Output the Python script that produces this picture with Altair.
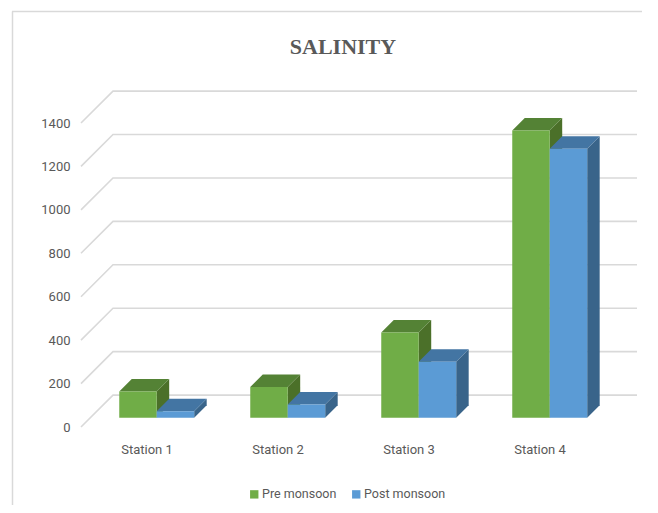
import altair as alt
import pandas as pd

stations = ["Station 1", "Station 2", "Station 3", "Station 4"]
pre_monsoon = [120, 141, 392, 1322]
post_monsoon = [29, 61, 258, 1238]
y_ticks = [0, 200, 400, 600, 800, 1000, 1200, 1400]
series_names = ["Pre monsoon", "Post monsoon"]

FONT = "Roboto"
TEXT = "#595959"
GRID = "#d9d9d9"

# layout of the pseudo-3D box, in scale units
BAR_LEFT = 0.292
BAR_W = 0.286
D_X = 0.0954
D_V = 57.6
BASE = 43
WALL_X = 32 / 131
WALL_V = 147

rows_front, rows_side, rows_top = [], [], []
for s_i, (name, vals) in enumerate(zip(series_names, [pre_monsoon, post_monsoon])):
    for i, v in enumerate(vals):
        x0 = i + BAR_LEFT + s_i * BAR_W
        x1 = x0 + BAR_W
        top = v + BASE
        rows_front.append(dict(series=name, st=i, x0=x0, x1=x1, y0=BASE, y1=top))
        rows_side += [
            dict(series=name, st=i, x=x1, y0=BASE, y1=top),
            dict(series=name, st=i, x=x1 + D_X, y0=BASE + D_V, y1=top + D_V),
        ]
        rows_top += [
            dict(series=name, st=i, y=top, x0=x0, x1=x1),
            dict(series=name, st=i, y=top + D_V, x0=x0 + D_X, x1=x1 + D_X),
        ]
front = pd.DataFrame(rows_front)
side = pd.DataFrame(rows_side)
topf = pd.DataFrame(rows_top)

grid_rows = []
for v in y_ticks:
    grid_rows += [
        dict(v=v, o=0, x=0, y=v),
        dict(v=v, o=1, x=WALL_X, y=v + WALL_V),
        dict(v=v, o=2, x=4 + WALL_X, y=v + WALL_V),
    ]
grid = pd.DataFrame(grid_rows)

xs = alt.Scale(domain=[0, 4], nice=False, zero=False)
ys = alt.Scale(domain=[0, 1400], nice=False, zero=False)

xaxis = alt.Axis(
    values=[0.5, 1.5, 2.5, 3.5],
    labelExpr="'Station ' + (datum.value + 0.5)",
    domain=False, ticks=False, grid=False, title=None,
    labelFont=FONT, labelFontSize=13, labelColor=TEXT, labelPadding=16,
)
yaxis = alt.Axis(
    values=y_ticks, domain=False, ticks=False, grid=False, title=None,
    labelFont=FONT, labelFontSize=13, labelColor=TEXT, labelPadding=11,
    format="d",
)

grid_layer = alt.Chart(grid).mark_line(color=GRID, strokeWidth=1.6).encode(
    x=alt.X("x:Q", scale=xs, axis=xaxis),
    y=alt.Y("y:Q", scale=ys, axis=yaxis),
    detail="v:N",
    order="o:Q",
)


def side_top(name, side_col, top_col):
    s = alt.Chart(side[side.series == name]).mark_area(color=side_col).encode(
        x=alt.X("x:Q", scale=xs, axis=xaxis),
        y=alt.Y("y0:Q", scale=ys, axis=yaxis),
        y2="y1:Q",
        detail="st:N",
    )
    t = alt.Chart(topf[topf.series == name]).mark_area(color=top_col, orient="horizontal").encode(
        y=alt.Y("y:Q", scale=ys, axis=yaxis),
        x=alt.X("x0:Q", scale=xs, axis=xaxis),
        x2="x1:Q",
        detail="st:N",
    )
    return s + t


fronts = alt.Chart(front).mark_rect().encode(
    x=alt.X("x0:Q", scale=xs, axis=xaxis),
    x2="x1:Q",
    y=alt.Y("y0:Q", scale=ys, axis=yaxis),
    y2="y1:Q",
    color=alt.Color(
        "series:N",
        scale=alt.Scale(domain=series_names, range=["#70AD47", "#5B9BD5"]),
        legend=alt.Legend(
            title=None, orient="none", direction="horizontal",
            legendX=167, legendY=365,
            symbolType="square", symbolSize=70, symbolStrokeWidth=0,
            labelFont=FONT, labelFontSize=12.5, labelColor=TEXT,
            labelOffset=1.5, columnPadding=13,
        ),
    ),
)

border_left = alt.Chart(pd.DataFrame({"a": [0]})).mark_rule(color=GRID, strokeWidth=1.5).encode(
    x=alt.value(-68.5), y=alt.value(-111.5), y2=alt.value(382)
)
border_top = alt.Chart(pd.DataFrame({"a": [0]})).mark_rule(color=GRID, strokeWidth=1.5).encode(
    x=alt.value(-69), x2=alt.value(561), y=alt.value(-111.5)
)

chart = alt.layer(
    border_left, border_top, grid_layer,
    side_top("Pre monsoon", "#4B7029", "#548235"),
    side_top("Post monsoon", "#39648A", "#4375A3"),
    fronts,
).resolve_scale(x="shared", y="shared").properties(
    width=524, height=304,
    padding={"left": 73, "top": 115, "right": 45, "bottom": 78},
    autosize=alt.AutoSizeParams(type="none"),
    title=alt.TitleParams(
        "SALINITY", font="Liberation Serif", fontSize=22, fontWeight="bold",
        color=TEXT, anchor="middle", offset=-48,
    ),
).configure_view(stroke=None)

chart.save("out.html", embed_options={"renderer": "svg", "actions": False})
